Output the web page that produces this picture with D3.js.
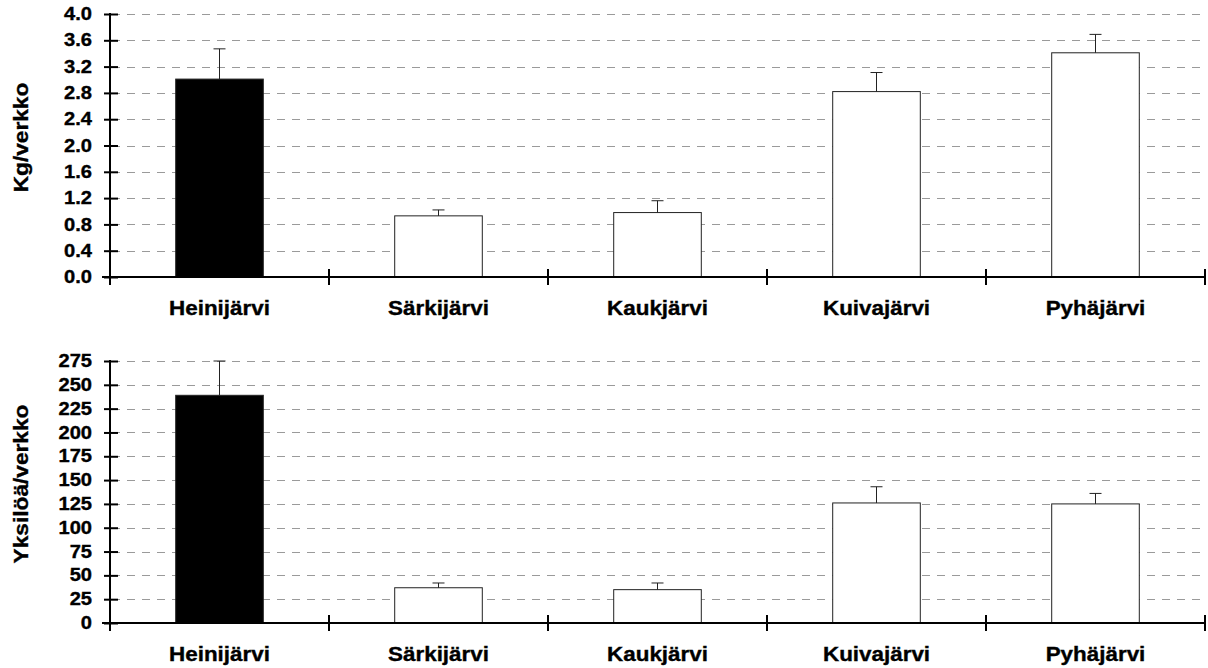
<!DOCTYPE html>
<html>
<head>
<meta charset="utf-8">
<script src="https://cdn.jsdelivr.net/npm/d3@7"></script>
<style>
  body { margin: 0; background: #fff; }
  text { font-family: "Liberation Sans", Arial, sans-serif; font-weight: bold; fill: #000; stroke: #000; stroke-width: 0.35px; }
</style>
</head>
<body>
<script>
var lakes = ["Heinijärvi", "Särkijärvi", "Kaukjärvi", "Kuivajärvi", "Pyhäjärvi"];

// Kg per net, mean and upper error
var kgMean = [3.01, 0.93, 0.98, 2.82, 3.41];
var kgErr = [0.46, 0.09, 0.18, 0.29, 0.28];
var kgTicks = [0, 0.4, 0.8, 1.2, 1.6, 2.0, 2.4, 2.8, 3.2, 3.6, 4.0];

// individuals per net
var nMean = [239, 37, 35, 126, 125];
var nErr = [36, 5, 7, 17, 11];
var nTicks = [0, 25, 50, 75, 100, 125, 150, 175, 200, 225, 250, 275];

function init() {
    var w = 1208;
    var h = 668;
    var left = 110;
    var right = 1205;
    var stretch = 1.15;

    var svg = d3.select("body")
                .append("svg")
                .attr("width", w)
                .attr("height", h);

    var xScale = d3.scaleBand()
        .domain(lakes)
        .range([left, right]);
    var barW = xScale.bandwidth() * 0.4;

    function panel(means, errs, ticks, fmt, top, bottom, title) {
        var data = lakes.map(function (d, i) {
            return { lake: d, v: means[i], e: errs[i] };
        });
        var yScale = d3.scaleLinear()
            .domain([0, ticks[ticks.length - 1]])
            .range([bottom, top]);

        var g = svg.append("g");

        // dashed grid
        g.selectAll(".grid")
            .data(ticks.slice(1))
            .enter()
            .append("line")
            .attr("x1", left + 2)
            .attr("x2", w - 2)
            .attr("y1", function (d) { return Math.round(yScale(d)) + 0.5; })
            .attr("y2", function (d) { return Math.round(yScale(d)) + 0.5; })
            .attr("stroke", "#9a9a9a")
            .attr("stroke-dasharray", "8,7");

        // bars
        g.selectAll(".bar")
            .data(data)
            .enter()
            .append("rect")
            .attr("x", function (d) { return xScale(d.lake) + (xScale.bandwidth() - barW) / 2; })
            .attr("y", function (d) { return yScale(d.v); })
            .attr("width", barW)
            .attr("height", function (d) { return yScale(0) - yScale(d.v); })
            .attr("fill", function (d, i) { return i == 0 ? "#000" : "#fff"; })
            .attr("stroke", "#222")
            .attr("stroke-width", 1);

        // error bars (upper only)
        var eb = g.selectAll(".err")
            .data(data)
            .enter()
            .append("g");
        eb.append("line")
            .attr("x1", function (d) { return xScale(d.lake) + xScale.bandwidth() / 2; })
            .attr("x2", function (d) { return xScale(d.lake) + xScale.bandwidth() / 2; })
            .attr("y1", function (d) { return yScale(d.v); })
            .attr("y2", function (d) { return yScale(d.v + d.e); })
            .attr("stroke", "#222");
        eb.append("line")
            .attr("x1", function (d) { return xScale(d.lake) + xScale.bandwidth() / 2 - 6; })
            .attr("x2", function (d) { return xScale(d.lake) + xScale.bandwidth() / 2 + 6; })
            .attr("y1", function (d) { return yScale(d.v + d.e); })
            .attr("y2", function (d) { return yScale(d.v + d.e); })
            .attr("stroke", "#222");

        // y axis
        var yAxis = g.append("g")
            .attr("transform", "translate(" + left + ",0)")
            .call(d3.axisLeft(yScale).tickValues(ticks).tickFormat(d3.format(fmt)).tickSizeOuter(0).tickSize(6));
        yAxis.attr("font-family", null).attr("font-size", null);
        yAxis.select(".domain").remove();
        yAxis.selectAll(".tick line")
            .attr("x1", 8)
            .attr("stroke-width", 2);
        yAxis.selectAll(".tick text")
            .attr("x", -18 / stretch)
            .attr("transform", "scale(" + stretch + ",1)")
            .style("font-size", "17.5px");

        g.append("line")
            .attr("x1", left).attr("x2", left)
            .attr("y1", yScale.range()[1] - 1)
            .attr("y2", bottom + 8)
            .attr("stroke", "#000")
            .attr("stroke-width", 2);

        // x axis with crossing ticks
        g.append("line")
            .attr("x1", left - 8).attr("x2", right + 1)
            .attr("y1", bottom).attr("y2", bottom)
            .attr("stroke", "#000")
            .attr("stroke-width", 2);
        g.selectAll(".xtick")
            .data(lakes)
            .enter()
            .append("line")
            .attr("x1", function (d) { return xScale(d) + xScale.bandwidth(); })
            .attr("x2", function (d) { return xScale(d) + xScale.bandwidth(); })
            .attr("y1", bottom - 8)
            .attr("y2", bottom + 8)
            .attr("stroke", "#000")
            .attr("stroke-width", 2);

        g.selectAll(".xlab")
            .data(lakes)
            .enter()
            .append("text")
            .attr("transform", function (d) {
                return "translate(" + (xScale(d) + xScale.bandwidth() / 2) + "," + (bottom + 38) + ") scale(" + stretch + ",1)";
            })
            .attr("text-anchor", "middle")
            .style("font-size", "19.5px")
            .text(function (d) { return d; });

        g.append("text")
            .attr("transform", "translate(28," + ((top + bottom) / 2 - 8) + ") rotate(-90) scale(1.08,1)")
            .attr("text-anchor", "middle")
            .style("font-size", "21px")
            .text(title);
    }

    panel(kgMean, kgErr, kgTicks, ".1f", 14, 277, "Kg/verkko");
    panel(nMean, nErr, nTicks, "d", 361, 623, "Yksilöä/verkko");
}

window.onload = init;
</script>
</body>
</html>
